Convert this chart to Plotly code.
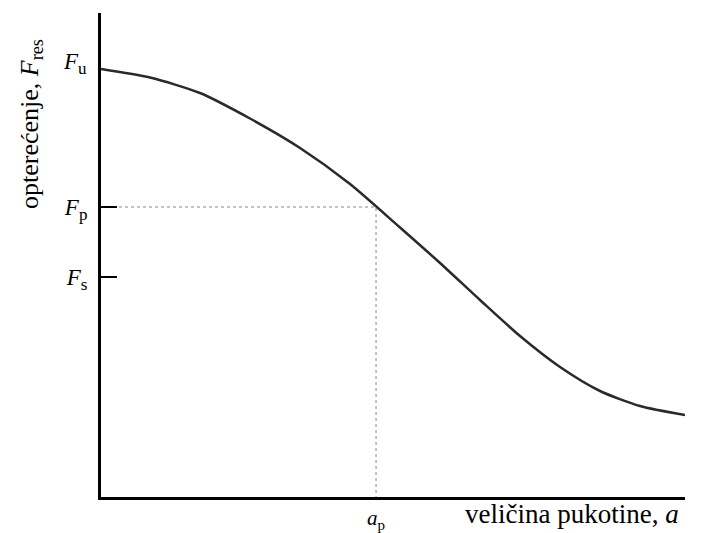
import plotly.graph_objects as go

# Curve (arbitrary units, x: crack size 0..100, y: load 0..100)
crack_size = [0, 8.39, 16.95, 25.51, 34.08, 42.64, 51.20, 58.05, 64.90, 71.75, 78.60, 85.45, 92.29, 100]
load = [88.43, 86.67, 83.47, 78.20, 72.11, 64.67, 55.68, 48.35, 40.70, 33.26, 26.86, 21.90, 18.80, 16.94]

# Characteristic values
F_u = 88.43
F_p = 59.92
F_s = 45.45
a_p = 47.1

sub = '<sub><span style="font-size:17px">{}</span></sub>'
sub_small = '<sub><span style="font-size:15px">{}</span></sub>'
y_tickvals = [F_s, F_p]
y_ticktext = ["<i>F</i>" + sub.format("s"), "<i>F</i>" + sub.format("p")]
x_tickvals = [a_p]
x_ticktext = ["<i>a</i>" + sub_small.format("p")]

serif = "Liberation Serif"

# The page body adds an 8px margin, so the margins below are shifted by 8px
# to put the plot area at 101..685 x 13..497 in the window.
fig = go.Figure()
fig.add_trace(go.Scatter(x=[0, a_p, a_p], y=[F_p, F_p, 0], mode="lines",
                         line=dict(color="#b0b0b0", width=1.5, dash="dot"),
                         hoverinfo="skip", showlegend=False))
fig.add_trace(go.Scatter(x=crack_size, y=load, mode="lines",
                         line=dict(color="#2a2a2a", width=2.5, shape="spline", smoothing=0.7),
                         showlegend=False, cliponaxis=False))

fig.update_layout(
    width=702, height=533,
    margin=dict(l=93, r=25, t=5, b=44),
    paper_bgcolor="white", plot_bgcolor="white",
    font=dict(family=serif, color="black"),
    modebar=dict(bgcolor="rgba(0,0,0,0)", color="rgba(0,0,0,0)", activecolor="rgba(0,0,0,0)"),
    xaxis=dict(range=[0, 100], showgrid=False, zeroline=False, automargin=False,
               showline=True, linewidth=3, linecolor="black",
               tickvals=x_tickvals, ticktext=x_ticktext, ticks="",
               ticklabelstandoff=0,
               tickfont=dict(family=serif, size=21, color="black")),
    yaxis=dict(range=[0, 100], showgrid=False, zeroline=False, automargin=False,
               showline=True, linewidth=3, linecolor="black",
               tickvals=y_tickvals, ticktext=y_ticktext,
               ticks="inside", ticklen=16, tickwidth=2, tickcolor="black",
               ticklabelstandoff=6,
               tickfont=dict(family=serif, size=23, color="black")),
    annotations=[
        dict(text="<i>F</i>" + sub.format("u"), xref="paper", yref="y",
             x=(89 - 101) / 584, y=F_u + 1.2, xanchor="right", yanchor="middle",
             showarrow=False, font=dict(family=serif, size=23, color="black")),
        dict(text="veličina pukotine, <i>a</i>", xref="paper", yref="paper",
             x=(572 - 101) / 584, y=-(514 - 497) / 484, xanchor="center", yanchor="middle",
             showarrow=False, font=dict(family=serif, size=27, color="black")),
        dict(text="opterećenje, <i>F</i><sub>res</sub>", xref="paper", yref="paper",
             x=(31 - 101) / 584, y=(497 - 124) / 484, xanchor="center", yanchor="middle",
             textangle=-90, showarrow=False, font=dict(family=serif, size=26, color="black")),
    ],
)

fig.write_html("out.html")
